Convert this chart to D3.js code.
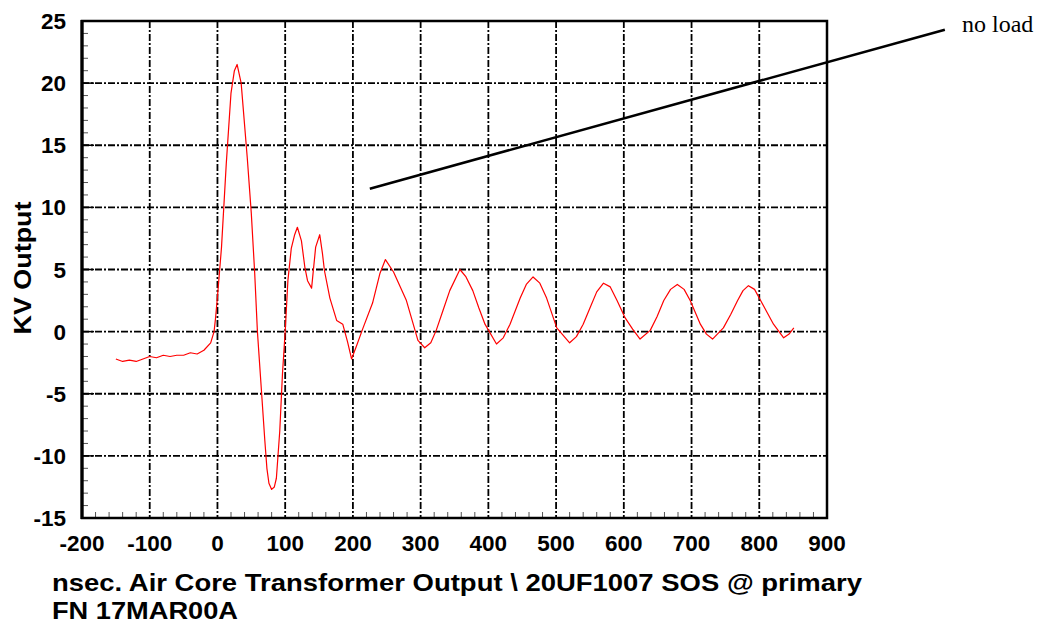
<!DOCTYPE html>
<html lang="en">
<head>
    <meta charset="UTF-8">
    <title>Air Core Transformer Output</title>
    <script src="https://d3js.org/d3.v7.min.js"></script>
    <style>
        body {
            margin: 0;
            background: #fff;
        }

        svg {
            display: block;
        }

        .tick-label {
            font-family: "Liberation Sans", Arial, sans-serif;
            font-weight: bold;
            font-size: 22.5px;
            fill: #000;
        }

        .grid line {
            stroke: #000;
            stroke-width: 1.8;
            stroke-dasharray: 7, 2, 2, 2;
        }
    </style>
</head>
<body>

    <svg width="1043" height="624"></svg>

    <script>
        // waveform (time in nsec, kV)
        const timeNs = [-150, -140, -130, -120, -110, -100, -90, -80, -70, -60, -50, -40, -30, -20, -10, -5, -3, 0,
            6, 13, 20, 25, 29, 35, 44, 50, 55, 59, 65, 70, 73, 76, 80, 84, 87, 92, 96, 100,
            104, 109, 114, 118, 124, 129, 133, 139, 145, 151, 155, 158, 166, 176, 185, 192, 198,
            205, 215, 229, 240, 248, 260, 270, 279, 288, 296, 306, 315, 323, 333, 343, 358,
            367, 377, 386, 395, 412, 422, 432, 447, 456, 466, 476, 486, 501, 520, 530, 540,
            550, 560, 570, 580, 590, 602, 613, 624, 639, 649, 659, 669, 679, 689, 698, 713,
            722, 731, 747, 758, 768, 776, 784, 793, 802, 812, 821, 836, 844, 851];
        const kvOut = [-2.2, -2.4, -2.3, -2.4, -2.2, -2.0, -2.1, -1.9, -2.0, -1.9, -1.9, -1.7, -1.8, -1.5, -0.9, 0, 1.0, 2.8,
            6.8, 13.5, 19.2, 21.0, 21.5, 20.0, 14.0, 9.5, 4.7, 0, -4.8, -8.8, -11.0, -12.2, -12.7, -12.5, -11.8, -8.0, -3.4, 0,
            4.1, 6.7, 7.8, 8.4, 7.3, 5.2, 4.1, 3.5, 6.8, 7.8, 6.3, 4.9, 2.7, 0.9, 0.6, -0.8, -2.2,
            -1.2, 0.3, 2.3, 4.7, 5.8, 4.8, 3.6, 2.5, 0.8, -0.7, -1.3, -0.9, 0.1, 1.7, 3.3, 5.0,
            4.4, 3.3, 1.9, 0.6, -1.0, -0.5, 0.6, 2.7, 3.8, 4.4, 3.9, 2.7, 0.3, -0.9, -0.4, 0.6,
            1.9, 3.2, 3.9, 3.6, 2.5, 1.1, 0.2, -0.6, 0.1, 1.2, 2.5, 3.4, 3.8, 3.4, 2.5, 0.6,
            -0.2, -0.6, 0.3, 1.4, 2.5, 3.3, 3.7, 3.4, 2.5, 1.5, 0.6, -0.5, -0.2, 0.3];

        const xTicks = [-200, -100, 0, 100, 200, 300, 400, 500, 600, 700, 800, 900];
        const yTicks = [-15, -10, -5, 0, 5, 10, 15, 20, 25];

        // callout line for the "no load" note, in data units
        const noteLine = [[225, 11.5], [1074, 24.3]];
        const noteText = "no load";

        const titleLines = ["nsec. Air Core Transformer Output \\ 20UF1007 SOS @ primary", "FN 17MAR00A"];
        const yTitle = "KV Output";

        const svg = d3.select("svg");

        const x = d3.scaleLinear().domain([-200, 900]).range([82, 827]);
        const y = d3.scaleLinear().domain([-15, 25]).range([518, 21]);

        // grid
        const grid = svg.append("g").attr("class", "grid");
        grid.selectAll("line.v")
            .data(xTicks.slice(1, -1))
            .enter().append("line")
            .attr("x1", d => x(d)).attr("x2", d => x(d))
            .attr("y1", y(25)).attr("y2", y(-15));
        grid.selectAll("line.h")
            .data(yTicks.slice(1, -1))
            .enter().append("line")
            .attr("x1", x(-200)).attr("x2", x(900))
            .attr("y1", d => y(d)).attr("y2", d => y(d));

        // minor ticks, pointing into the plot
        const minorY = d3.range(-15, 25, 1).filter(v => v % 5 !== 0);
        svg.append("g").selectAll("line")
            .data(minorY)
            .enter().append("line")
            .attr("x1", x(-200)).attr("x2", x(-200) + 6)
            .attr("y1", d => y(d)).attr("y2", d => y(d))
            .attr("stroke", "#555").attr("stroke-width", 1);

        const minorX = d3.range(-200, 900, 20).filter(v => v % 100 !== 0);
        svg.append("g").selectAll("line")
            .data(minorX)
            .enter().append("line")
            .attr("x1", d => x(d)).attr("x2", d => x(d))
            .attr("y1", y(-15)).attr("y2", y(-15) - 6)
            .attr("stroke", "#555").attr("stroke-width", 1);

        // major ticks on the left axis
        svg.append("g").selectAll("line")
            .data(yTicks)
            .enter().append("line")
            .attr("x1", x(-200)).attr("x2", x(-200) + 12)
            .attr("y1", d => y(d)).attr("y2", d => y(d))
            .attr("stroke", "#000").attr("stroke-width", 1.5);

        // trace
        const trace = timeNs.map((t, i) => [t, kvOut[i]]);
        svg.append("path")
            .datum(trace)
            .attr("fill", "none")
            .attr("stroke", "#ff0000")
            .attr("stroke-width", 1.2)
            .attr("stroke-linejoin", "round")
            .attr("d", d3.line().x(d => x(d[0])).y(d => y(d[1])));

        // frame
        svg.append("rect")
            .attr("x", x(-200)).attr("y", y(25))
            .attr("width", x(900) - x(-200)).attr("height", y(-15) - y(25))
            .attr("fill", "none").attr("stroke", "#000").attr("stroke-width", 2.5);
        svg.append("line")
            .attr("x1", x(-200)).attr("x2", x(-200))
            .attr("y1", y(25) - 1).attr("y2", y(-15) + 1)
            .attr("stroke", "#000").attr("stroke-width", 3.2);

        // tick labels
        svg.append("g").selectAll("text")
            .data(yTicks)
            .enter().append("text")
            .attr("class", "tick-label")
            .attr("text-anchor", "end")
            .attr("x", 66)
            .attr("y", d => y(d) + 8)
            .text(d => d);

        svg.append("g").selectAll("text")
            .data(xTicks)
            .enter().append("text")
            .attr("class", "tick-label")
            .attr("text-anchor", "middle")
            .attr("x", d => x(d))
            .attr("y", 551)
            .text(d => d);

        // axis titles
        svg.append("text")
            .attr("transform", "translate(31,268) rotate(-90)")
            .attr("text-anchor", "middle")
            .attr("textLength", 133)
            .attr("lengthAdjust", "spacingAndGlyphs")
            .style("font-family", "'Liberation Sans', Arial, sans-serif")
            .style("font-weight", "bold")
            .style("font-size", "24px")
            .text(yTitle);

        const titleLen = [810, 186];
        svg.append("g").selectAll("text")
            .data(titleLines)
            .enter().append("text")
            .attr("x", 52)
            .attr("y", (d, i) => 591 + i * 28)
            .attr("textLength", (d, i) => titleLen[i])
            .attr("lengthAdjust", "spacingAndGlyphs")
            .style("font-family", "'Liberation Sans', Arial, sans-serif")
            .style("font-weight", "bold")
            .style("font-size", "24px")
            .text(d => d);

        // "no load" callout
        svg.append("line")
            .attr("x1", x(noteLine[0][0])).attr("y1", y(noteLine[0][1]))
            .attr("x2", x(noteLine[1][0])).attr("y2", y(noteLine[1][1]))
            .attr("stroke", "#000").attr("stroke-width", 2.6);

        svg.append("text")
            .attr("x", 962)
            .attr("y", 32)
            .style("font-family", "'Liberation Serif', 'Times New Roman', serif")
            .style("font-size", "24px")
            .text(noteText);
    </script>

</body>
</html>
